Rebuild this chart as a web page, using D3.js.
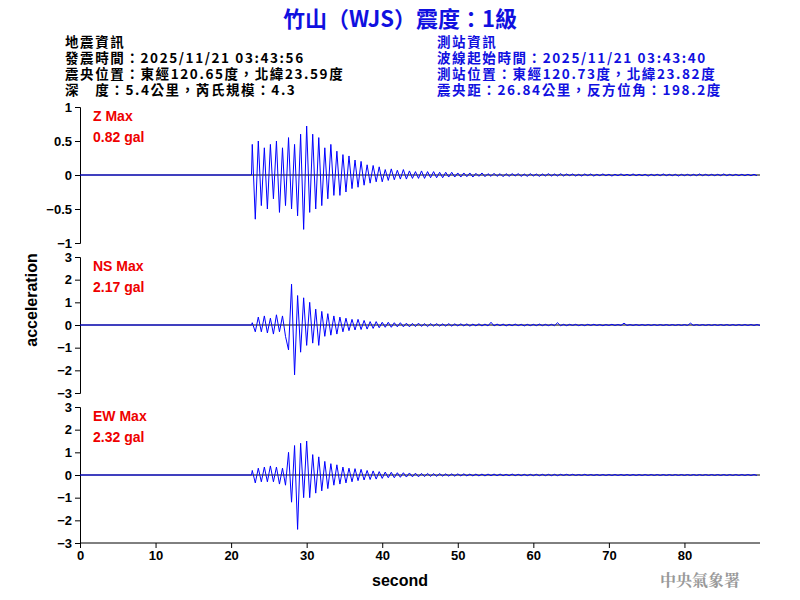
<!DOCTYPE html>
<html><head><meta charset="utf-8">
<script src="https://cdn.jsdelivr.net/npm/d3@7"></script>
<style>body{margin:0;background:#fff}</style></head>
<body><svg id="c" width="800" height="600"></svg>
<script>
const startTime = 22.8, step = 0.4;
const zVals = [0.45,-0.65,0.5,-0.45,0.4,-0.5,0.45,-0.35,0.5,-0.55,0.4,-0.45,0.55,-0.5,0.45,-0.6,0.6,-0.8,
0.72,-0.55,0.6,-0.5,0.55,-0.45,0.4,-0.35,0.45,-0.3,0.35,-0.3,0.3,
-0.25,0.28,-0.2,0.22,-0.18,0.2,-0.15,0.15,-0.12,0.14,-0.1,0.12,-0.1,
0.08,-0.08,0.09,-0.07,0.07,-0.06,0.08,-0.06,0.06,-0.05,0.05,-0.05,0.06,-0.05,0.05,-0.04,0.05,-0.04,0.04,-0.04,0.04,-0.03,0.04,-0.03,0.03,
-0.03,0.03,-0.025,0.03,-0.03,0.025,-0.02,0.03,-0.025,0.02,-0.02,0.025,-0.02,0.02,-0.025,0.02,-0.02,0.02,-0.015,0.02,
-0.02,0.015,-0.02,0.02,-0.015,0.015,-0.02,0.015,-0.015,0.02,-0.015,0.015,-0.015,0.02,-0.015,0.015,-0.01,0.015,-0.015,0.01,
-0.015,0.015,-0.01,0.015,-0.015,0.01,-0.01,0.015,-0.01,0.01,-0.015,0.01,-0.01,0.015,-0.01,0.01,-0.01,0.015,-0.01,0.01,
-0.01,0.01,-0.015,0.01,-0.01,0.01,-0.01,0.015,-0.01,0.01,-0.01,0.01,-0.015,0.01,-0.01,0.01,-0.01,0.01,-0.01,0.015,
-0.01,0.01,-0.01,0.01,-0.01,0.01,-0.01,0.015,-0.01,0.01,-0.01,0.01,-0.01,0.01,-0.01,0.01,-0.01,0.01,-0.01];
const nsVals = [0.1,-0.3,0.35,-0.3,0.4,-0.35,0.3,-0.4,0.45,-0.3,0.4,-0.5,-1.1,
1.8,-2.2,1.3,-1.2,1.2,-0.9,1.0,-0.8,0.7,-0.9,0.6,-0.5,0.5,-0.45,0.4,-0.4,0.35,-0.3,0.3,-0.25,0.25,-0.22,0.25,-0.2,0.2,-0.18,0.15,-0.15,0.15,-0.12,0.12,
-0.1,0.12,-0.1,0.1,-0.08,0.1,-0.08,0.08,-0.08,0.07,-0.07,0.08,-0.06,0.06,-0.07,0.06,-0.05,0.06,-0.05,0.05,-0.05,0.06,-0.05,0.05,-0.04,
0.05,-0.04,0.05,-0.05,0.04,-0.04,0.05,-0.04,0.04,-0.04,0.12,-0.04,0.04,-0.03,0.04,-0.04,0.03,-0.03,0.04,-0.03,0.03,
-0.04,0.03,-0.03,0.03,-0.03,0.04,-0.03,0.03,-0.03,0.03,-0.03,0.1,-0.03,0.03,-0.03,0.03,-0.02,0.03,-0.03,0.02,
-0.03,0.03,-0.02,0.03,-0.02,0.02,-0.03,0.02,-0.02,0.03,-0.02,0.02,-0.02,0.08,-0.02,0.02,-0.02,0.02,-0.02,0.02,
-0.02,0.02,-0.02,0.02,-0.02,0.02,-0.02,0.02,-0.02,0.02,-0.02,0.02,-0.02,0.02,-0.02,0.08,-0.02,0.02,-0.02,0.02,
-0.02,0.02,-0.02,0.02,-0.02,0.02,-0.02,0.02,-0.02,0.02,-0.02,0.02,-0.02,0.02,-0.02,0.02,-0.02,0.02,-0.02];
const ewVals = [0.2,-0.35,0.3,-0.3,0.35,-0.3,0.4,-0.3,0.35,-0.4,0.3,-0.45,1.0,
-1.2,1.3,-2.4,1.4,-1.0,1.5,-1.0,0.9,-0.8,0.8,-0.7,0.6,-0.6,0.5,-0.45,0.45,-0.4,0.35,-0.35,0.3,-0.3,0.28,-0.25,0.25,-0.22,0.2,-0.2,0.18,-0.18,0.15,-0.15,
0.13,-0.12,0.12,-0.12,0.1,-0.1,0.1,-0.09,0.09,-0.08,0.08,-0.08,0.07,-0.07,0.07,-0.06,0.06,-0.06,0.06,-0.05,0.05,-0.05,0.05,-0.05,0.05,
-0.04,0.05,-0.04,0.04,-0.04,0.04,-0.04,0.04,-0.04,0.04,-0.03,0.04,-0.03,0.04,-0.03,0.03,-0.03,0.04,-0.03,0.03,
-0.03,0.03,-0.03,0.03,-0.03,0.03,-0.03,0.03,-0.03,0.03,-0.03,0.03,-0.03,0.03,-0.02,0.03,-0.02,0.03,-0.02,0.02,
-0.02,0.03,-0.02,0.02,-0.02,0.02,-0.02,0.02,-0.02,0.02,-0.02,0.02,-0.02,0.02,-0.02,0.02,-0.02,0.02,-0.02,0.02,
-0.02,0.02,-0.02,0.02,-0.02,0.02,-0.02,0.02,-0.02,0.02,-0.02,0.02,-0.02,0.02,-0.02,0.02,-0.02,0.02,-0.02,0.02,
-0.02,0.02,-0.02,0.02,-0.02,0.02,-0.02,0.02,-0.02,0.02,-0.02,0.02,-0.02,0.02,-0.02,0.02,-0.02,0.02,-0.02];
const panelNames = ["Z Max","NS Max","EW Max"];
const panelMax = ["0.82 gal","2.17 gal","2.32 gal"];
const zTicks = [-1,-0.5,0,0.5,1];
const hTicks = [-3,-2,-1,0,1,2,3];
const xTicks = [0,10,20,30,40,50,60,70,80];
const title = "竹山（WJS）震度：1級";
const infoLeft = ["地震資訊","發震時間：2025/11/21 03:43:56","震央位置：東經120.65度，北緯23.59度","深　度：5.4公里，芮氏規模：4.3"];
const infoRight = ["測站資訊","波線起始時間：2025/11/21 03:43:40","測站位置：東經120.73度，北緯23.82度","震央距：26.84公里，反方位角：198.2度"];

const svg = d3.select("#c");
const F = "'Liberation Sans', Arial, sans-serif";
const CJK = "'Noto Sans CJK TC', sans-serif";
const x = d3.scaleLinear().domain([0,90]).range([80,760]);
const panels = [
 {vals:zVals, dom:[-1,1], ticks:zTicks, top:107, bot:243},
 {vals:nsVals, dom:[-3,3], ticks:hTicks, top:257, bot:393},
 {vals:ewVals, dom:[-3,3], ticks:hTicks, top:407, bot:543}];
svg.append("text").attr("x",400).attr("y",27).attr("text-anchor","middle").attr("fill","#1010e0")
 .attr("font-family",CJK).attr("font-weight","bold").attr("font-size",22).text(title);
infoLeft.forEach((t,i)=>svg.append("text").attr("x",65).attr("y",47+i*16).attr("font-family",CJK).attr("font-weight","bold").attr("font-size",13.5).attr("letter-spacing",1.6).attr("fill","#000").text(t));
infoRight.forEach((t,i)=>svg.append("text").attr("x",437).attr("y",47+i*16).attr("font-family",CJK).attr("font-weight","bold").attr("font-size",13.5).attr("letter-spacing",1.6).attr("fill","#1010e0").text(t));
panels.forEach((p,k)=>{
 const y = d3.scaleLinear().domain(p.dom).range([p.bot,p.top]);
 const g = svg.append("g").attr("transform","translate(80,0)")
  .call(d3.axisLeft(y).tickValues(p.ticks).tickSize(5).tickFormat(d3.format("")));
 g.selectAll("text").attr("font-family",F).attr("font-size",13).attr("font-weight","bold").attr("fill","#000");
 svg.append("line").attr("x1",x(0)).attr("x2",x(90)).attr("y1",y(0)).attr("y2",y(0)).attr("stroke","#000");
 const pts = [[0,0],[startTime-0.1,0]].concat(p.vals.map((v,i)=>[startTime+i*step,v]));
 svg.append("path").attr("d",d3.line().x(d=>x(d[0])).y(d=>y(d[1]))(pts))
  .attr("fill","none").attr("stroke","#0000ff").attr("stroke-width",1);
 svg.append("text").attr("x",93).attr("y",p.top+14).attr("fill","#ee0000").attr("font-family",F).attr("font-weight","bold").attr("font-size",14).text(panelNames[k]);
 svg.append("text").attr("x",93).attr("y",p.top+35).attr("fill","#ee0000").attr("font-family",F).attr("font-weight","bold").attr("font-size",14).text(panelMax[k]);
});
const xa = svg.append("g").attr("transform","translate(0,543)").call(d3.axisBottom(x).tickValues(xTicks).tickSize(5));
xa.select(".domain").attr("d","M80,0H760");
xa.selectAll("text").attr("font-family",F).attr("font-size",13).attr("font-weight","bold").attr("fill","#000");
svg.append("text").attr("x",400).attr("y",586).attr("text-anchor","middle").attr("font-family",F).attr("font-weight","bold").attr("font-size",16).text("second");
svg.append("text").attr("transform","translate(37,300) rotate(-90)").attr("text-anchor","middle").attr("font-family",F).attr("font-weight","bold").attr("font-size",16).text("acceleration");
svg.append("text").attr("x",700).attr("y",586).attr("text-anchor","middle").attr("font-family","'Noto Serif CJK TC', "+CJK).attr("font-weight","bold").attr("font-size",16).attr("fill","#999").text("中央氣象署");
</script></body></html>
